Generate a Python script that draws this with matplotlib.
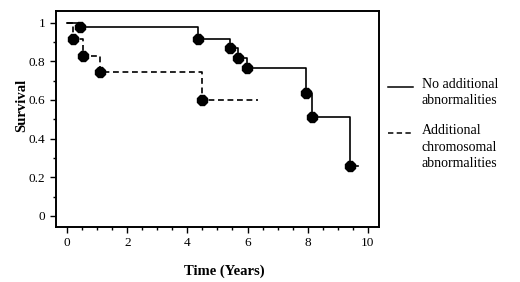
import numpy as np
import matplotlib.pyplot as plt
from matplotlib.ticker import MultipleLocator

plt.rcParams['font.family'] = ['Liberation Serif', 'DejaVu Serif']

# Kaplan-Meier steps: event times and survival after each event
no_add_times = [0.43, 4.35, 5.42, 5.69, 5.97, 7.95, 8.13, 9.40]
no_add_surv = [0.978, 0.915, 0.868, 0.816, 0.764, 0.635, 0.511, 0.256]
no_add_end = 9.67

add_times = [0.19, 0.52, 1.10, 4.50]
add_surv = [0.914, 0.828, 0.747, 0.600]
add_end = 6.35

labels = ["No additional\nabnormalities", "Additional\nchromosomal\nabnormalities"]

DASH = (3.5, 2.2)


def km_curve(times, surv, end):
    x = [0] + list(times) + [end]
    y = [1.0] + list(surv) + [surv[-1]]
    return x, y


fig = plt.figure(figsize=(5.2, 2.82), dpi=100)
ax = fig.add_axes([0.1077, 0.195, 0.621, 0.766])

x, y = km_curve(no_add_times, no_add_surv, no_add_end)
ax.step(x, y, where='post', color='black', lw=1.2)
ax.plot(no_add_times, no_add_surv, '8', color='black', ms=8)

x, y = km_curve(add_times, add_surv, add_end)
ax.step(x, y, where='post', color='black', lw=1.2, dashes=DASH)
ax.plot(add_times, add_surv, '8', color='black', ms=8)

ax.set_xlim(-0.37, 10.37)
ax.set_ylim(-0.057, 1.06)
ax.set_xticks([0, 2, 4, 6, 8, 10])
ax.set_yticks([0, 0.2, 0.4, 0.6, 0.8, 1])
ax.set_yticklabels(['0', '0.2', '0.4', '0.6', '0.8', '1'])
ax.xaxis.set_minor_locator(MultipleLocator(0.5))
ax.yaxis.set_minor_locator(MultipleLocator(0.1))
ax.tick_params(which='both', direction='out', top=False, right=False,
               labelsize=9.5, width=1.0)
ax.tick_params(which='major', length=4)
ax.tick_params(which='minor', length=2)
for sp in ax.spines.values():
    sp.set_linewidth(1.4)

ax.set_xlabel("Time (Years)", fontweight='bold', fontsize=10.5)
ax.set_ylabel("Survival", fontweight='bold', fontsize=10.5)
ax.xaxis.set_label_coords(0.52, -0.172)
ax.yaxis.set_label_coords(-0.087, 0.565)

# legend drawn by hand so the sample line sits on the first text line
legend_y = [0.650, 0.435]
styles = [dict(), dict(dashes=DASH)]
for ly, lab, st in zip(legend_y, labels, styles):
    ax.plot([1.028, 1.105], [ly, ly], color='black', lw=1.1,
            transform=ax.transAxes, clip_on=False, **st)
    ax.text(1.133, ly + 0.04, lab, transform=ax.transAxes, fontsize=10,
            va='top', ha='left', linespacing=1.35)

fig.savefig("out.png", dpi=100)
